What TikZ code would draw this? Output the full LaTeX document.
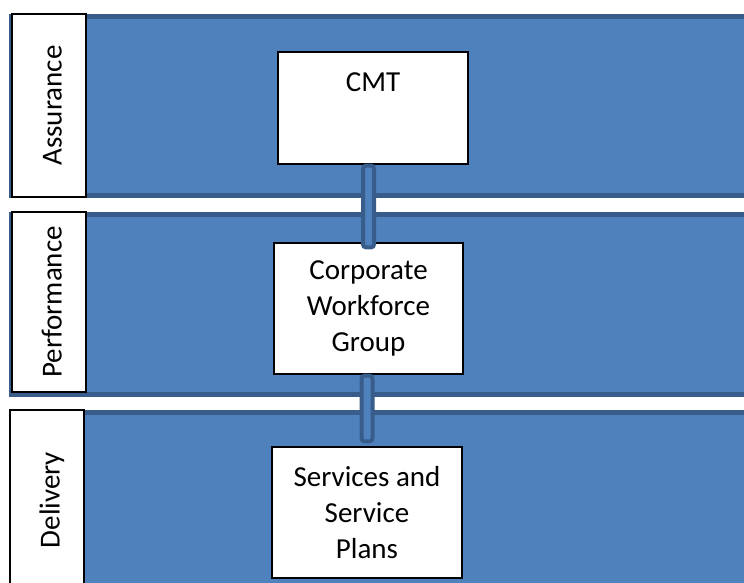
\documentclass[tikz,border=0pt]{standalone}
\usepackage{fontspec}
\setmainfont{Carlito}
\usepackage{tikz}
\usetikzlibrary{positioning}
\definecolor{bandblue}{HTML}{4F81BD}
\definecolor{banddark}{HTML}{385D8A}

\begin{document}
\begin{tikzpicture}[x=1pt,y=1pt,
 every node/.style={font=\fontsize{29}{36}\selectfont},
 band/.style={fill=bandblue,draw=banddark,line width=5pt},
 tier/.style={draw=black,fill=white,line width=1.2pt,rotate=90,minimum width=#1,
   minimum height=74pt,text height=25pt,text depth=0pt,inner sep=0pt},
 group/.style={draw=black,fill=white,line width=1.2pt,minimum width=190pt,
   minimum height=131pt,align=center,inner sep=0pt},
 link/.style={fill=bandblue,draw=banddark,line width=4pt,rounded corners=3pt}]
 \useasboundingbox (0,0) rectangle (744,583);
 \clip (0,0) rectangle (744,583);

 % the three bands
 \draw[band] (11,566.5) rectangle (760,387);
 \draw[band] (11,368.5) rectangle (760,188.5);
 \draw[band] (11,170.5) rectangle (760,-10);

 \node[tier=183pt] (assur) at (49,477.5) {Assurance};
 \node[tier=180pt] (perf) at (49,281) {Performance};
 \node[tier=180pt] (deliv) at (47,83) {Delivery};

 \node[group,minimum height=112pt,text height=40pt,text depth=72pt] (cmt) at (373,475) {CMT};
 \node[group,minimum width=189pt] (cwg) at (368.5,274.5) {Corporate\\Workforce\\Group};
 \node[group] (svc) at (367,70.5) {Services and\\Service\\Plans};

 % links between the groups
 \coordinate (top1) at (cwg.north |- cmt.south);
 \coordinate (top2) at (svc.north |- cwg.south);
 \draw[link] ([xshift=-5.5pt,yshift=-1pt]top1) rectangle ([xshift=5.5pt,yshift=-5pt]cwg.north);
 \draw[link] ([xshift=-5.5pt,yshift=-1pt]top2) rectangle ([xshift=5.5pt,yshift=5pt]svc.north);
\end{tikzpicture}
\end{document}
